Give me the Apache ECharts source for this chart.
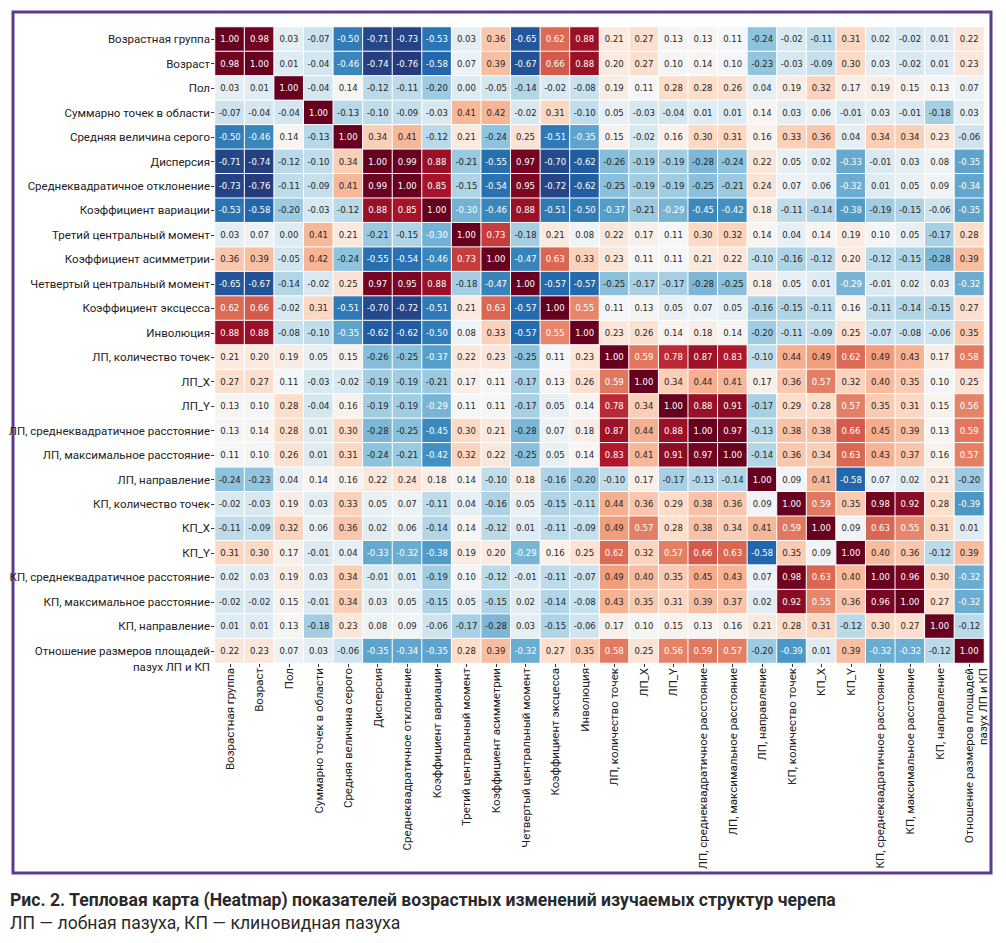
<!DOCTYPE html>
<html><head><meta charset="utf-8">
<script src="https://cdn.jsdelivr.net/npm/echarts@6/dist/echarts.min.js"></script>
<style>html,body{margin:0;padding:0;background:#fff}#c{width:1006px;height:943px}</style>
</head><body><div id="c"></div>
<script>
const labels = ['Возрастная группа','Возраст','Пол','Суммарно точек в области','Средняя величина серого','Дисперсия','Среднеквадратичное отклонение','Коэффициент вариации','Третий центральный момент','Коэффициент асимметрии','Четвертый центральный момент','Коэффициент эксцесса','Инволюция','ЛП, количество точек','ЛП_X','ЛП_Y','ЛП, среднеквадратичное расстояние','ЛП, максимальное расстояние','ЛП, направление','КП, количество точек','КП_X','КП_Y','КП, среднеквадратичное расстояние','КП, максимальное расстояние','КП, направление','Отношение размеров площадей\nпазух ЛП и КП'];

const r00 = [1.00,0.98,0.03,-0.07,-0.50,-0.71,-0.73,-0.53,0.03,0.36,-0.65,0.62,0.88,0.21,0.27,0.13,0.13,0.11,-0.24,-0.02,-0.11,0.31,0.02,-0.02,0.01,0.22];
const r01 = [0.98,1.00,0.01,-0.04,-0.46,-0.74,-0.76,-0.58,0.07,0.39,-0.67,0.66,0.88,0.20,0.27,0.10,0.14,0.10,-0.23,-0.03,-0.09,0.30,0.03,-0.02,0.01,0.23];
const r02 = [0.03,0.01,1.00,-0.04,0.14,-0.12,-0.11,-0.20,0.00,-0.05,-0.14,-0.02,-0.08,0.19,0.11,0.28,0.28,0.26,0.04,0.19,0.32,0.17,0.19,0.15,0.13,0.07];
const r03 = [-0.07,-0.04,-0.04,1.00,-0.13,-0.10,-0.09,-0.03,0.41,0.42,-0.02,0.31,-0.10,0.05,-0.03,-0.04,0.01,0.01,0.14,0.03,0.06,-0.01,0.03,-0.01,-0.18,0.03];
const r04 = [-0.50,-0.46,0.14,-0.13,1.00,0.34,0.41,-0.12,0.21,-0.24,0.25,-0.51,-0.35,0.15,-0.02,0.16,0.30,0.31,0.16,0.33,0.36,0.04,0.34,0.34,0.23,-0.06];
const r05 = [-0.71,-0.74,-0.12,-0.10,0.34,1.00,0.99,0.88,-0.21,-0.55,0.97,-0.70,-0.62,-0.26,-0.19,-0.19,-0.28,-0.24,0.22,0.05,0.02,-0.33,-0.01,0.03,0.08,-0.35];
const r06 = [-0.73,-0.76,-0.11,-0.09,0.41,0.99,1.00,0.85,-0.15,-0.54,0.95,-0.72,-0.62,-0.25,-0.19,-0.19,-0.25,-0.21,0.24,0.07,0.06,-0.32,0.01,0.05,0.09,-0.34];
const r07 = [-0.53,-0.58,-0.20,-0.03,-0.12,0.88,0.85,1.00,-0.30,-0.46,0.88,-0.51,-0.50,-0.37,-0.21,-0.29,-0.45,-0.42,0.18,-0.11,-0.14,-0.38,-0.19,-0.15,-0.06,-0.35];
const r08 = [0.03,0.07,0.00,0.41,0.21,-0.21,-0.15,-0.30,1.00,0.73,-0.18,0.21,0.08,0.22,0.17,0.11,0.30,0.32,0.14,0.04,0.14,0.19,0.10,0.05,-0.17,0.28];
const r09 = [0.36,0.39,-0.05,0.42,-0.24,-0.55,-0.54,-0.46,0.73,1.00,-0.47,0.63,0.33,0.23,0.11,0.11,0.21,0.22,-0.10,-0.16,-0.12,0.20,-0.12,-0.15,-0.28,0.39];
const r10 = [-0.65,-0.67,-0.14,-0.02,0.25,0.97,0.95,0.88,-0.18,-0.47,1.00,-0.57,-0.57,-0.25,-0.17,-0.17,-0.28,-0.25,0.18,0.05,0.01,-0.29,-0.01,0.02,0.03,-0.32];
const r11 = [0.62,0.66,-0.02,0.31,-0.51,-0.70,-0.72,-0.51,0.21,0.63,-0.57,1.00,0.55,0.11,0.13,0.05,0.07,0.05,-0.16,-0.15,-0.11,0.16,-0.11,-0.14,-0.15,0.27];
const r12 = [0.88,0.88,-0.08,-0.10,-0.35,-0.62,-0.62,-0.50,0.08,0.33,-0.57,0.55,1.00,0.23,0.26,0.14,0.18,0.14,-0.20,-0.11,-0.09,0.25,-0.07,-0.08,-0.06,0.35];
const r13 = [0.21,0.20,0.19,0.05,0.15,-0.26,-0.25,-0.37,0.22,0.23,-0.25,0.11,0.23,1.00,0.59,0.78,0.87,0.83,-0.10,0.44,0.49,0.62,0.49,0.43,0.17,0.58];
const r14 = [0.27,0.27,0.11,-0.03,-0.02,-0.19,-0.19,-0.21,0.17,0.11,-0.17,0.13,0.26,0.59,1.00,0.34,0.44,0.41,0.17,0.36,0.57,0.32,0.40,0.35,0.10,0.25];
const r15 = [0.13,0.10,0.28,-0.04,0.16,-0.19,-0.19,-0.29,0.11,0.11,-0.17,0.05,0.14,0.78,0.34,1.00,0.88,0.91,-0.17,0.29,0.28,0.57,0.35,0.31,0.15,0.56];
const r16 = [0.13,0.14,0.28,0.01,0.30,-0.28,-0.25,-0.45,0.30,0.21,-0.28,0.07,0.18,0.87,0.44,0.88,1.00,0.97,-0.13,0.38,0.38,0.66,0.45,0.39,0.13,0.59];
const r17 = [0.11,0.10,0.26,0.01,0.31,-0.24,-0.21,-0.42,0.32,0.22,-0.25,0.05,0.14,0.83,0.41,0.91,0.97,1.00,-0.14,0.36,0.34,0.63,0.43,0.37,0.16,0.57];
const r18 = [-0.24,-0.23,0.04,0.14,0.16,0.22,0.24,0.18,0.14,-0.10,0.18,-0.16,-0.20,-0.10,0.17,-0.17,-0.13,-0.14,1.00,0.09,0.41,-0.58,0.07,0.02,0.21,-0.20];
const r19 = [-0.02,-0.03,0.19,0.03,0.33,0.05,0.07,-0.11,0.04,-0.16,0.05,-0.15,-0.11,0.44,0.36,0.29,0.38,0.36,0.09,1.00,0.59,0.35,0.98,0.92,0.28,-0.39];
const r20 = [-0.11,-0.09,0.32,0.06,0.36,0.02,0.06,-0.14,0.14,-0.12,0.01,-0.11,-0.09,0.49,0.57,0.28,0.38,0.34,0.41,0.59,1.00,0.09,0.63,0.55,0.31,0.01];
const r21 = [0.31,0.30,0.17,-0.01,0.04,-0.33,-0.32,-0.38,0.19,0.20,-0.29,0.16,0.25,0.62,0.32,0.57,0.66,0.63,-0.58,0.35,0.09,1.00,0.40,0.36,-0.12,0.39];
const r22 = [0.02,0.03,0.19,0.03,0.34,-0.01,0.01,-0.19,0.10,-0.12,-0.01,-0.11,-0.07,0.49,0.40,0.35,0.45,0.43,0.07,0.98,0.63,0.40,1.00,0.96,0.30,-0.32];
const r23 = [-0.02,-0.02,0.15,-0.01,0.34,0.03,0.05,-0.15,0.05,-0.15,0.02,-0.14,-0.08,0.43,0.35,0.31,0.39,0.37,0.02,0.92,0.55,0.36,0.96,1.00,0.27,-0.32];
const r24 = [0.01,0.01,0.13,-0.18,0.23,0.08,0.09,-0.06,-0.17,-0.28,0.03,-0.15,-0.06,0.17,0.10,0.15,0.13,0.16,0.21,0.28,0.31,-0.12,0.30,0.27,1.00,-0.12];
const r25 = [0.22,0.23,0.07,0.03,-0.06,-0.35,-0.34,-0.35,0.28,0.39,-0.32,0.27,0.35,0.58,0.25,0.56,0.59,0.57,-0.20,-0.39,0.01,0.39,-0.32,-0.32,-0.12,1.00];

const matrix = [r00,r01,r02,r03,r04,r05,r06,r07,r08,r09,r10,r11,r12,r13,r14,r15,r16,r17,r18,r19,r20,r21,r22,r23,r24,r25];

const data = [];
matrix.forEach((row, yi) => row.forEach((v, xi) => {
  const light = (v <= -0.29 || v >= 0.52);
  data.push({ value: [xi, yi, v], label: { color: light ? '#ffffff' : '#262626' } });
}));

const lastLabel = labels[labels.length - 1];
const labFmt = v => (v === lastLabel ? ' \n' + v : v);
const labFont = "Roboto, 'Liberation Sans', sans-serif";

const chart = echarts.init(document.getElementById('c'), null, { renderer: 'svg' });
chart.setOption({
  animation: false,
  backgroundColor: '#ffffff',
  grid: { left: 215, top: 27, width: 769, height: 636, containLabel: false, outerBoundsMode: 'none' },
  xAxis: {
    type: 'category', data: labels,
    axisLine: { show: false },
    axisTick: { show: true, length: 4, alignWithLabel: true, lineStyle: { color: '#333' } },
    splitLine: { show: false },
    axisLabel: { rotate: 90, interval: 0, margin: 5, fontFamily: labFont, fontSize: 11.5, color: '#222', lineHeight: 14, formatter: labFmt }
  },
  yAxis: {
    type: 'category', data: labels, inverse: true,
    axisLine: { show: false },
    axisTick: { show: true, length: 4, alignWithLabel: true, lineStyle: { color: '#333' } },
    splitLine: { show: false },
    axisLabel: { interval: 0, margin: 5, fontFamily: labFont, fontSize: 11.5, color: '#222', lineHeight: 16, formatter: labFmt }
  },
  visualMap: {
    show: false, type: 'continuous', min: -0.76, max: 1.0, dimension: 2,
    inRange: { color: ['#253a7c','#2166ac','#4393c3','#92c5de','#d1e5f0','#f7f7f7','#fddbc7','#f4a582','#d6604d','#b2182b','#67001f'] }
  },
  series: [{
    type: 'heatmap', data: data,
    itemStyle: { borderColor: '#ffffff', borderWidth: 1 },
    label: { show: true, fontFamily: 'DejaVu Sans', fontSize: 8.5, formatter: p => p.value[2].toFixed(2) },
    emphasis: { disabled: true }
  }],
  graphic: [
    { type: 'rect', shape: { x: 13, y: 12, width: 978, height: 861 }, style: { fill: 'none', stroke: '#5b3b8e', lineWidth: 3 }, silent: true },
    { type: 'text', left: 10, top: 891, style: { text: 'Рис. 2. Тепловая карта (Heatmap) показателей возрастных изменений изучаемых структур черепа', font: "bold 17.6px Roboto, sans-serif", fill: '#2a2a2a' } },
    { type: 'text', left: 10, top: 914, style: { text: 'ЛП — лобная пазуха, КП — клиновидная пазуха', font: "17.6px Roboto, sans-serif", fill: '#2a2a2a' } }
  ]
});
</script></body></html>
